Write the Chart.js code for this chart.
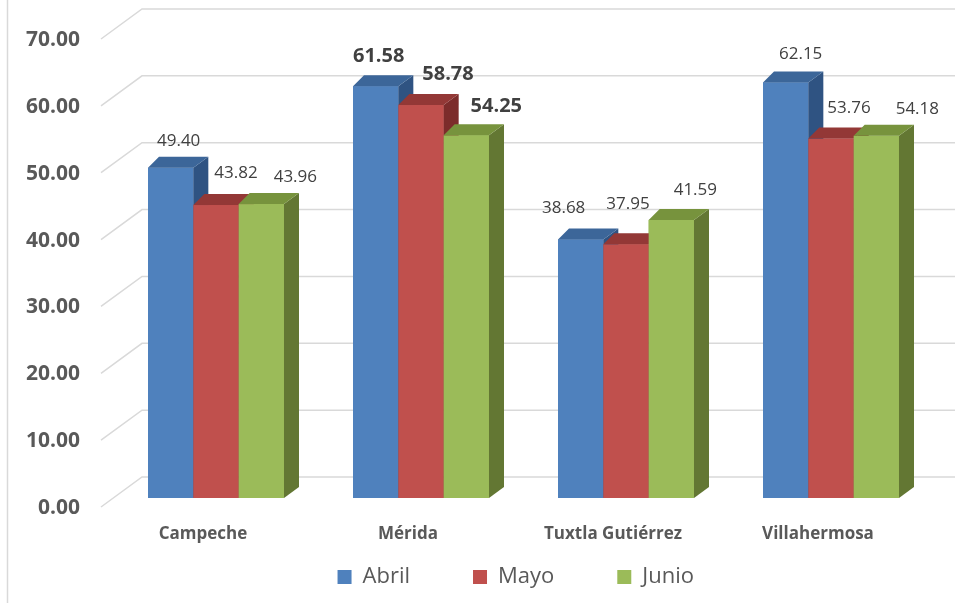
<!DOCTYPE html>
<html>
<head>
<meta charset="utf-8">
<script src="https://cdn.jsdelivr.net/npm/chart.js@4.4.0/dist/chart.umd.min.js"></script>
<style>
  html, body { margin: 0; padding: 0; background: #fff; }
  #wrap { width: 955px; height: 603px; }
</style>
</head>
<body>
<div id="wrap"><canvas id="grafica" width="955" height="603"></canvas></div>
<script>
// datos
const ciudades = ['Campeche', 'Mérida', 'Tuxtla Gutiérrez', 'Villahermosa'];
const meses = ['Abril', 'Mayo', 'Junio'];
const abril = [49.40, 61.58, 38.68, 62.15];
const mayo = [43.82, 58.78, 37.95, 53.76];
const junio = [43.96, 54.25, 41.59, 54.18];
const yMin = 0, yMax = 70, yStep = 10;

// estilo
const caras = [
    { front: '#4F81BD', top: '#3C6699', side: '#2F5382' },
    { front: '#C0504D', top: '#933836', side: '#7C2C2B' },
    { front: '#9BBB59', top: '#77933D', side: '#637733' }
];
const fuente = 'Open Sans';
const ciudadNegrita = 'Mérida';
const prof = { dxL: 11, dxR: 15, dy: 11 };      // profundidad de las barras
const muro = { front: -12.5, back: 28.5, dyF: 9, dyB: -21 }; // rejilla en perspectiva
// desplazamiento de etiquetas respecto al centro de la cara frontal
const etiqDx = [[8, 3, -17, 15], [20, 27, 2, 18], [34, 30, 24, 41]];
const etiqDy = [[27, 30, 31, 28], [32, 31, 40, 30], [27, 29, 30, 27]];

function poligono(ctx, pts, color) {
    ctx.beginPath();
    ctx.moveTo(pts[0][0], pts[0][1]);
    for (let k = 1; k < pts.length; k++) ctx.lineTo(pts[k][0], pts[k][1]);
    ctx.closePath();
    ctx.fillStyle = color;
    ctx.fill();
}

const barras3d = {
    id: 'barras3d',
    beforeDraw(chart) {
        const ctx = chart.ctx;
        ctx.save();
        ctx.strokeStyle = '#D9D9D9';
        ctx.lineWidth = 1.5;
        ctx.beginPath();
        ctx.moveTo(7.5, 0);
        ctx.lineTo(7.5, chart.height);
        ctx.stroke();
        ctx.restore();
    },
    beforeDatasetsDraw(chart) {
        const ctx = chart.ctx;
        const y = chart.scales.y;
        const left = chart.chartArea.left;
        ctx.save();
        ctx.strokeStyle = '#D9D9D9';
        ctx.lineWidth = 1.5;
        y.ticks.forEach(t => {
            const py = y.getPixelForValue(t.value);
            ctx.beginPath();
            ctx.moveTo(left + muro.front, py + muro.dyF);
            ctx.lineTo(left + muro.back, py + muro.dyB);
            ctx.lineTo(chart.width, py + muro.dyB);
            ctx.stroke();
        });
        ctx.restore();
    },
    afterDatasetsDraw(chart) {
        const ctx = chart.ctx;
        const metas = chart.data.datasets.map((d, i) => chart.getDatasetMeta(i));
        ctx.save();
        ciudades.forEach((c, j) => {
            metas.forEach((meta, i) => {
                const b = meta.data[j].getProps(['x', 'y', 'base', 'width'], true);
                const l = b.x - b.width / 2, r = b.x + b.width / 2;
                ctx.fillStyle = caras[i].front;
                ctx.fillRect(l, b.y, b.width, b.base - b.y);
                poligono(ctx, [[r, b.y], [r + prof.dxR, b.y - prof.dy], [r + prof.dxR, b.base - prof.dy], [r, b.base]], caras[i].side);
                poligono(ctx, [[l, b.y], [l + prof.dxL, b.y - prof.dy], [r + prof.dxR, b.y - prof.dy], [r, b.y]], caras[i].top);
            });
        });
        // etiquetas de datos
        ctx.textAlign = 'center';
        ctx.textBaseline = 'middle';
        ctx.fillStyle = '#404040';
        metas.forEach((meta, i) => {
            const valores = chart.data.datasets[i].data;
            meta.data.forEach((bar, j) => {
                const negrita = ciudades[j] === ciudadNegrita;
                ctx.font = negrita ? 'bold 20px "' + fuente + '"' : '17px "' + fuente + '"';
                ctx.fillText(valores[j].toFixed(2), bar.x + etiqDx[i][j], bar.y - etiqDy[i][j]);
            });
        });
        ctx.restore();
    }
};

new Chart(document.getElementById('grafica').getContext('2d'), {
    type: 'bar',
    data: {
        labels: ciudades,
        datasets: [abril, mayo, junio].map((serie, i) => ({
            label: meses[i],
            data: serie,
            backgroundColor: caras[i].front,
            borderWidth: 0,
            categoryPercentage: 0.6634,
            barPercentage: 1
        }))
    },
    options: {
        responsive: false,
        animation: false,
        devicePixelRatio: 1,
        layout: { padding: { left: 98, right: 21.5, top: 30, bottom: 5 } },
        plugins: {
            tooltip: { enabled: false },
            legend: {
                position: 'bottom',
                labels: {
                    boxWidth: 14,
                    boxHeight: 14,
                    padding: 63,
                    color: '#595959',
                    font: { family: fuente, size: 22 }
                }
            }
        },
        scales: {
            x: {
                grid: { display: false },
                border: { display: false },
                ticks: {
                    color: '#595959',
                    font: { family: fuente, size: 17, weight: 'bold' },
                    padding: 18,
                    labelOffset: -13,
                    maxRotation: 0,
                    autoSkip: false
                },
                afterFit(scale) {
                    scale.height = 5;
                    scale._computeLabelArea = () => null; // sin recorte: las etiquetas caen sobre la leyenda
                }
            },
            y: {
                min: yMin,
                max: yMax,
                grid: { display: false, drawTicks: false },
                border: { display: false },
                ticks: {
                    stepSize: yStep,
                    color: '#595959',
                    font: { family: fuente, size: 21, weight: 'bold' },
                    padding: 33.5,
                    labelOffset: 10,
                    callback: v => v.toFixed(2)
                },
                afterFit(scale) {
                    scale.width = 15.5;
                    scale.paddingTop = 0;
                    scale.paddingBottom = 0;
                    scale._computeLabelArea = () => null;
                }
            }
        }
    },
    plugins: [barras3d]
});
</script>
</body>
</html>
